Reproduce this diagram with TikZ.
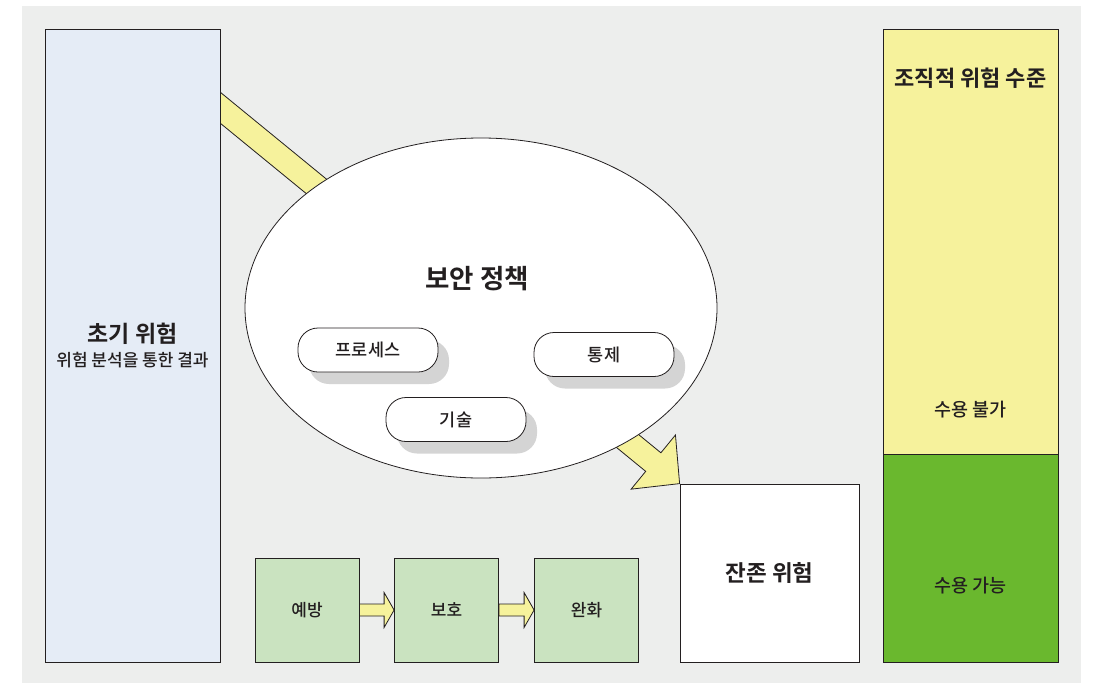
\documentclass[tikz,border=0pt]{standalone}
\usepackage{fontspec}
\setmainfont{Noto Sans CJK KR}[UprightFont={* Medium}, BoldFont={* Bold}]
\usetikzlibrary{calc,shapes.geometric,shadows}
\definecolor{bggray}{HTML}{EDEEED}
\definecolor{linecol}{HTML}{231F20}
\definecolor{riskblue}{HTML}{E5ECF6}
\definecolor{arrowyellow}{HTML}{F6F29C}
\definecolor{stepgreen}{HTML}{CAE3C0}
\definecolor{okgreen}{HTML}{6AB82E}
\definecolor{shadowgray}{HTML}{D4D4D4}
\pgfdeclarelayer{background}
\pgfdeclarelayer{arrows}
\pgfsetlayers{background,arrows,main}
\tikzset{
    box/.style = {
        rectangle,
        draw = linecol,
        line width = 0.8pt,
        inner sep = 0pt,
        text = linecol,
        },
    risk box/.style = {
        box,
        fill = riskblue,
        minimum width = 175pt,
        minimum height = 633pt,
        align = center,
        },
    stepbox/.style = {
        box,
        fill = stepgreen,
        minimum width = 104pt,
        minimum height = 104pt,
        font = \fontsize{17}{20}\selectfont,
        },
    pill/.style = {
        box,
        fill = white,
        rounded corners = 20pt,
        minimum width = 140pt,
        minimum height = 44pt,
        font = \fontsize{17.5}{20}\selectfont,
        drop shadow = {shadow xshift=11pt, shadow yshift=-12pt, fill=shadowgray, opacity=1},
        },
    title/.style = {
        text = linecol,
        font = \fontsize{23}{26}\selectfont\bfseries,
        },
    label/.style = {
        text = linecol,
        font = \fontsize{18.5}{22}\selectfont,
        },
    fat arrow/.style = {
        draw = linecol,
        line width = 0.8pt,
        fill = arrowyellow,
        line join = miter,
        },
}
% block arrow: tail, tip, shaft half width, head half width, head length
\newcommand{\blockarrow}[5]{%
    \coordinate (ba-h) at ($(#2)!#5!(#1)$);
    \draw[fat arrow] ($(#1)!#3!90:(#2)$) -- ($(ba-h)!#3!90:(#2)$)
        -- ($(ba-h)!#4!90:(#2)$) -- (#2) -- ($(ba-h)!#4!-90:(#2)$)
        -- ($(ba-h)!#3!-90:(#2)$) -- ($(#1)!#3!-90:(#2)$) -- cycle;
}

\begin{document}
\begin{tikzpicture}[x=1pt, y=-1pt]
    \useasboundingbox (0,0) rectangle (1099,683);
    \begin{pgfonlayer}{background}
        \fill[bggray] (22,6) rectangle (1081,683);
    \end{pgfonlayer}

    % initial risk
    \node[risk box] (init) at (132.5,345.5)
        {{\fontsize{23}{27}\selectfont\bfseries 초기 위험}\\[7pt]
         {\fontsize{17}{20}\selectfont 위험 분석을 통한 결과}};

    % security policy
    \node[draw=linecol, line width=0.8pt, fill=white, ellipse,
          minimum width=472pt, minimum height=340pt] (policy) at (481,308) {};
    \node[title, font=\fontsize{26.5}{30}\selectfont\bfseries] (policytitle) at (477,279) {보안 정책};
    \node[pill] (process) at (368,350) {프로세스};
    \node[pill] (control) at (604,354.5) {통제};
    \node[pill] (tech) at (456,419.5) {기술};

    % steps
    \node[stepbox] (prevent) at (307,610) {예방};
    \node[stepbox] (protect) at (446.5,610) {보호};
    \node[stepbox] (mitigate) at (586.5,610) {완화};

    % residual risk
    \node[box, fill=white, minimum width=179pt, minimum height=178pt,
          font=\fontsize{22.5}{26}\selectfont\bfseries] (resid) at (769.5,573) {잔존 위험};

    % organisational risk level
    \node[box, fill=arrowyellow, minimum width=175pt, minimum height=425pt] (unacc) at (970.5,241.5) {};
    \node[box, fill=okgreen, minimum width=175pt, minimum height=208pt] (acc) at (970.5,558) {};
    \node[title, font=\fontsize{22}{26}\selectfont\bfseries] (orglevel) at (970.5,78) {조직적 위험 수준};
    \node[label] (unacctext) at (970.5,410) {수용 불가};
    \node[label] (acctext) at (970.5,586) {수용 가능};

    \begin{pgfonlayer}{arrows}
        \coordinate (arrowstart) at ($(init.north east)!0.125!(init.south east)$);
        \coordinate (arrowtail) at ($(arrowstart)!-20pt!(resid.north west)$);
        \blockarrow{arrowtail}{resid.north west}{12pt}{35pt}{34pt}
        \blockarrow{prevent.east}{protect.west}{6pt}{17.5pt}{10pt}
        \blockarrow{protect.east}{mitigate.west}{6pt}{17.5pt}{10pt}
    \end{pgfonlayer}
\end{tikzpicture}
\end{document}
